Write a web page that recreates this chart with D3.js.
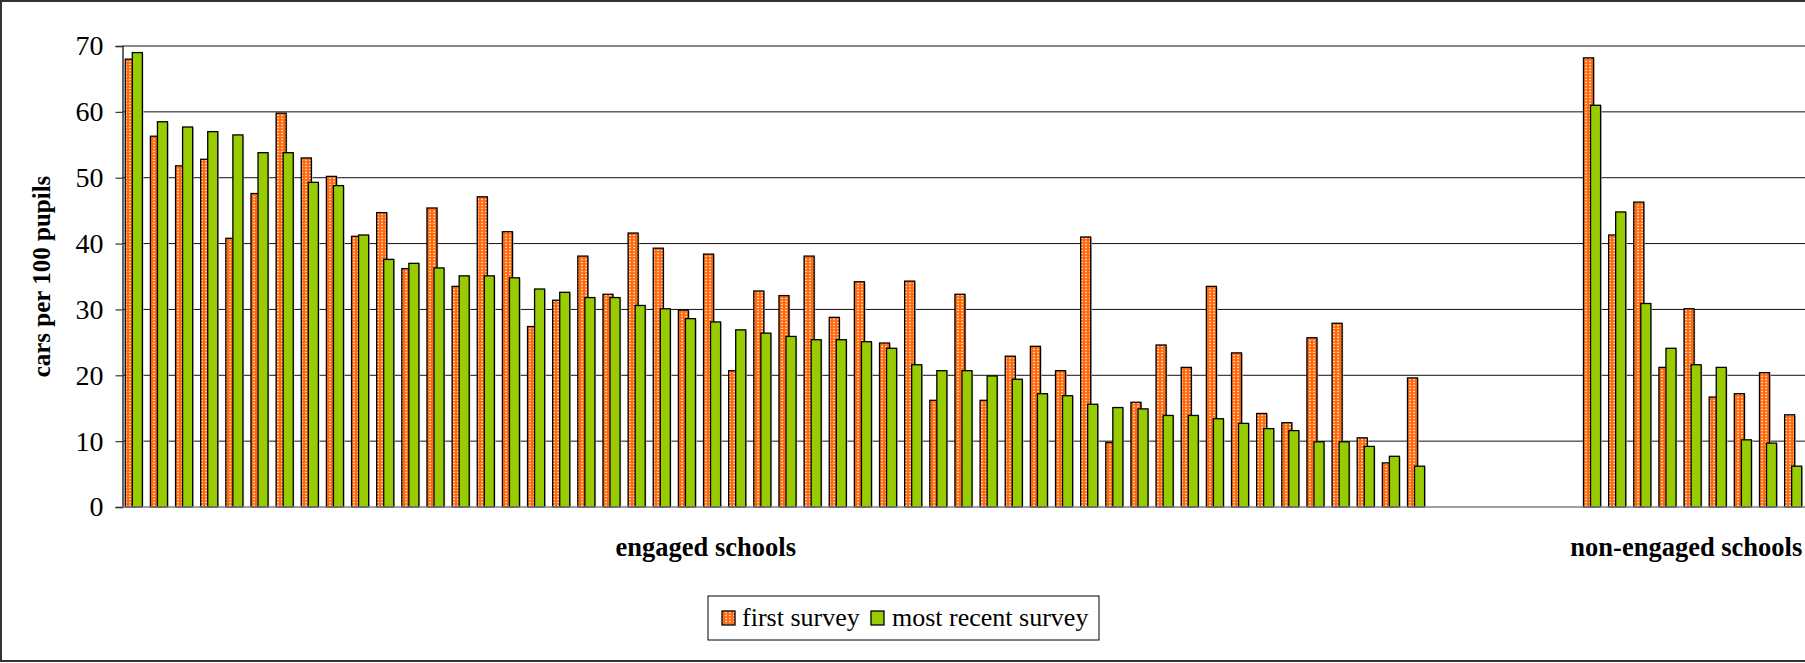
<!DOCTYPE html>
<html>
<head>
<meta charset="utf-8">
<script src="https://cdn.jsdelivr.net/npm/d3@7"></script>
<style>
  html, body { margin: 0; padding: 0; background: #fff; overflow: hidden; }
  svg { display: block; }
  text { font-family: "Liberation Serif", "Times New Roman", serif; fill: #000; }
</style>
</head>
<body>
<svg id="chart" width="1805" height="663"></svg>
<script>
// Cars per 100 pupils, per school
const engagedFirst = [
  68.0, 56.3, 51.8, 52.8, 40.8, 47.6, 59.8, 53.0, 50.2, 41.1,
  44.7, 36.2, 45.4, 33.5, 47.1, 41.8, 27.4, 31.4, 38.1, 32.3,
  41.6, 39.3, 29.9, 38.4, 20.7, 32.8, 32.1, 38.1, 28.8, 34.2,
  24.9, 34.3, 16.2, 32.3, 16.2, 22.9, 24.4, 20.7, 41.0, 9.8,
  15.9, 24.6, 21.2, 33.5, 23.4, 14.2, 12.8, 25.7, 27.9, 10.5,
  6.7, 19.6
];
const engagedRecent = [
  69.0, 58.5, 57.7, 57.0, 56.5, 53.8, 53.8, 49.3, 48.8, 41.3,
  37.6, 37.0, 36.3, 35.1, 35.1, 34.8, 33.1, 32.6, 31.8, 31.8,
  30.6, 30.1, 28.6, 28.1, 26.9, 26.4, 25.9, 25.4, 25.4, 25.1,
  24.1, 21.6, 20.7, 20.7, 19.9, 19.4, 17.2, 16.9, 15.6, 15.1,
  14.9, 13.9, 13.9, 13.4, 12.7, 11.9, 11.6, 9.9, 9.9, 9.2,
  7.7, 6.2
];
const nonEngagedFirst  = [68.2, 41.3, 46.3, 21.2, 30.1, 16.7, 17.2, 20.4, 14.0];
const nonEngagedRecent = [61.0, 44.8, 30.9, 24.1, 21.6, 21.2, 10.2, 9.7, 6.2];

const gapSlots = 6;                       // empty categories between the two groups
const yTicks = [0, 10, 20, 30, 40, 50, 60, 70];
const seriesNames = ["first survey", "most recent survey"];
const groupLabels = ["engaged schools", "non-engaged schools"];
const groupLabelSlots = [23, 62];
const yTitle = "cars per 100 pupils";

// ---- build rows ----
const rows = [];
engagedFirst.forEach((v, i) => rows.push({ slot: i, first: v, recent: engagedRecent[i] }));
const offset = engagedFirst.length + gapSlots;
nonEngagedFirst.forEach((v, i) => rows.push({ slot: offset + i, first: v, recent: nonEngagedRecent[i] }));
const nSlots = offset + nonEngagedFirst.length;

const svg = d3.select("#chart");
const W = 1805, H = 663;

const plot = { left: 122.5, right: 1807, top: 46, bottom: 507 };

const x = d3.scaleBand().domain(d3.range(nSlots)).range([plot.left, plot.right]).padding(0);
const y = d3.scaleLinear().domain([0, 70]).range([plot.bottom, plot.top]);
const bw = x.bandwidth();

// fill pattern for the first-survey bars: orange with light dots
const defs = svg.append("defs");
const pat = defs.append("pattern")
  .attr("id", "dots").attr("patternUnits", "userSpaceOnUse")
  .attr("width", 4).attr("height", 3);
pat.append("rect").attr("width", 4).attr("height", 3).attr("fill", "#ff6a0e");
pat.append("rect").attr("x", 1.3).attr("y", 0.8).attr("width", 1.5).attr("height", 1.3).attr("fill", "#fff0e0");

// outer frame
svg.append("rect")
  .attr("x", 1).attr("y", 1).attr("width", W + 20).attr("height", H - 3)
  .attr("fill", "#fff").attr("stroke", "#333").attr("stroke-width", 2);

// gridlines
svg.append("g").selectAll("line").data(yTicks.filter(t => t > 0)).join("line")
  .attr("x1", plot.left).attr("x2", W + 5)
  .attr("y1", d => y(d)).attr("y2", d => y(d))
  .attr("stroke", "#111").attr("stroke-width", 1);

// y axis
const yAxis = svg.append("g")
  .attr("transform", `translate(${plot.left},0)`)
  .call(d3.axisLeft(y).tickValues(yTicks).tickSize(7).tickPadding(12).tickFormat(d3.format("d")));
yAxis.select(".domain").attr("stroke", "#333").attr("stroke-width", 1.5);
yAxis.selectAll(".tick line").attr("stroke", "#333").attr("stroke-width", 1.2);
yAxis.selectAll(".tick text")
  .attr("font-family", "Liberation Serif, serif").attr("font-size", 28).attr("fill", "#222");

// y title
svg.append("text")
  .attr("transform", `translate(50,${(plot.top + plot.bottom) / 2}) rotate(-90)`)
  .attr("text-anchor", "middle")
  .attr("font-size", 25).attr("font-weight", "bold")
  .text(yTitle);

// bars
const barW = bw * 0.40;
const gBars = svg.append("g");
const groups = gBars.selectAll("g").data(rows).join("g");

groups.append("rect")
  .attr("x", d => x(d.slot) + bw * 0.11 + 1.2)
  .attr("y", d => y(d.first) + 1.2)
  .attr("width", barW).attr("height", d => y(0) - y(d.first) - 1.2)
  .attr("fill", "#c9c9c9");
groups.append("rect")
  .attr("x", d => x(d.slot) + bw * 0.11)
  .attr("y", d => y(d.first))
  .attr("width", barW).attr("height", d => y(0) - y(d.first))
  .attr("fill", "url(#dots)").attr("stroke", "#000").attr("stroke-width", 1.3);

groups.append("rect")
  .attr("x", d => x(d.slot) + bw * 0.39 + 1.2)
  .attr("y", d => y(d.recent) + 1.2)
  .attr("width", barW).attr("height", d => y(0) - y(d.recent) - 1.2)
  .attr("fill", "#c9c9c9");
groups.append("rect")
  .attr("x", d => x(d.slot) + bw * 0.39)
  .attr("y", d => y(d.recent))
  .attr("width", barW).attr("height", d => y(0) - y(d.recent))
  .attr("fill", "#99cc00").attr("stroke", "#000").attr("stroke-width", 1.3);

// x baseline
svg.append("line")
  .attr("x1", plot.left).attr("x2", W + 5)
  .attr("y1", y(0)).attr("y2", y(0))
  .attr("stroke", "#808080").attr("stroke-width", 1.5);

// category group labels
svg.append("g").selectAll("text").data(groupLabels).join("text")
  .attr("x", (d, i) => x(groupLabelSlots[i]) + bw * 0.2)
  .attr("y", 556)
  .attr("text-anchor", "middle")
  .attr("font-size", 26.5).attr("font-weight", "bold")
  .text(d => d);

// legend
const lg = svg.append("g").attr("transform", "translate(708,596)");
lg.append("rect").attr("width", 391).attr("height", 44)
  .attr("fill", "#fff").attr("stroke", "#000").attr("stroke-width", 1);
const legendItems = [
  { name: seriesNames[0], fill: "url(#dots)", sx: 14, tx: 34 },
  { name: seriesNames[1], fill: "#99cc00", sx: 163, tx: 184 }
];
legendItems.forEach(it => {
  lg.append("rect").attr("x", it.sx).attr("y", 15).attr("width", 13).attr("height", 14)
    .attr("fill", it.fill).attr("stroke", "#000").attr("stroke-width", 1.3);
  lg.append("text").attr("x", it.tx).attr("y", 30)
    .attr("font-size", 26).text(it.name);
});
</script>
</body>
</html>
